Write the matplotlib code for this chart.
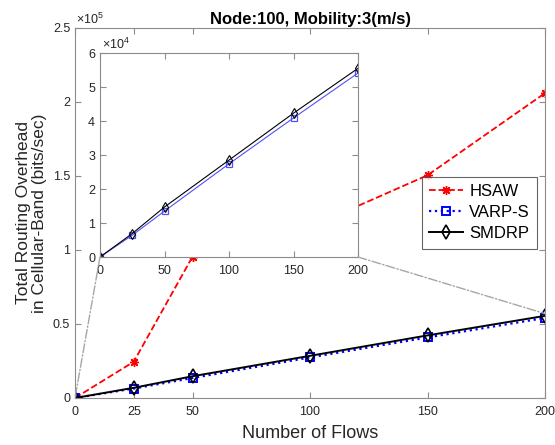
import matplotlib
matplotlib.use("Agg")
import matplotlib.pyplot as plt
from matplotlib.ticker import FuncFormatter, FixedLocator
from matplotlib.patches import ConnectionPatch

plt.rcParams['font.family'] = ['Liberation Sans', 'DejaVu Sans']
plt.rcParams['mathtext.fontset'] = 'custom'
plt.rcParams['mathtext.rm'] = 'Liberation Sans'

flows = [0, 25, 50, 100, 150, 200]
hsaw = [0, 24500, 95500, 115500, 150500, 206000]
varps = [0, 6400, 13500, 27400, 40900, 54100]
smdrp = [0, 6900, 14700, 28500, 42300, 55500]

main_xticks = [0, 25, 50, 100, 150, 200]
main_yticks = [0, 50000, 100000, 150000, 200000, 250000]
inset_xticks = [0, 50, 100, 150, 200]
inset_yticks = [0, 10000, 20000, 30000, 40000, 50000, 60000]
zoom_end = (200, 57000)

W, H = 555, 445
fig = plt.figure(figsize=(W / 100, H / 100), dpi=100)

spine_c = '#8c8c8c'
text_c = '#262626'

def px_axes(l, r, t, b):
    return [l / W, (H - b) / H, (r - l) / W, (b - t) / H]

def style(a):
    for s in a.spines.values():
        s.set_color(spine_c)
        s.set_linewidth(0.8)
    a.tick_params(direction='in', which='both', top=True, right=True,
                  colors=spine_c, labelcolor=text_c, labelsize=9,
                  length=4, width=0.8)
    a.tick_params(axis='x', pad=6)

ax = fig.add_axes(px_axes(75, 545, 28, 398))
style(ax)
ax.plot(flows, hsaw, color='red', linestyle='--', linewidth=1.3,
        marker=(8, 2, 0), markersize=6.5, label='HSAW')
ax.plot(flows, varps, color='blue', linestyle=':', linewidth=1.6,
        marker='s', markersize=6, markerfacecolor='none', markeredgewidth=1.4,
        label='VARP-S')
ax.plot(flows, smdrp, color='black', linestyle='-', linewidth=1.4,
        marker='d', markersize=7, markerfacecolor='none', markeredgewidth=1.2,
        label='SMDRP')
ax.set_xlim(0, 200)
ax.set_ylim(0, 250000)
ax.xaxis.set_major_locator(FixedLocator(main_xticks))
ax.yaxis.set_major_locator(FixedLocator(main_yticks))
ax.yaxis.set_major_formatter(FuncFormatter(lambda v, p: '%g' % (v / 1e5)))
ax.text(0.002, 1.004, r'$\times\mathregular{10^{5}}$', transform=ax.transAxes,
        ha='left', va='bottom', fontsize=9, color=text_c)
ax.set_title('Node:100, Mobility:3(m/s)', fontsize=12, fontweight='bold', pad=3)
ax.set_xlabel('Number of Flows', fontsize=13, color=text_c, labelpad=5)
ax.set_ylabel('Total Routing Overhead\nin Cellular-Band (bits/sec)', fontsize=12.5,
              color=text_c, linespacing=1.05)
ax.yaxis.set_label_coords(-0.06, 0.5)

leg = ax.legend(loc='upper left', bbox_to_anchor=(0.738, 0.598), fontsize=12,
                frameon=True, fancybox=False, edgecolor='#404040',
                handlelength=2.0, labelspacing=0.36, borderpad=0.45,
                handletextpad=0.4, borderaxespad=0)
leg.get_frame().set_linewidth(0.8)

axin = fig.add_axes(px_axes(100, 358, 53, 257))
style(axin)
axin.plot(flows, varps, color='#5050ff', linestyle='-', linewidth=0.8,
          marker='s', markersize=4, markerfacecolor='none', markeredgewidth=0.9)
axin.plot(flows, smdrp, color='black', linestyle='-', linewidth=0.8,
          marker='d', markersize=5, markerfacecolor='none', markeredgewidth=0.8)
axin.set_xlim(0, 200)
axin.set_ylim(0, 60000)
axin.xaxis.set_major_locator(FixedLocator(inset_xticks))
axin.yaxis.set_major_locator(FixedLocator(inset_yticks))
axin.yaxis.set_major_formatter(FuncFormatter(lambda v, p: '%g' % (v / 1e4)))
axin.text(0.008, 1.005, r'$\times\mathregular{10^{4}}$', transform=axin.transAxes,
          ha='left', va='bottom', fontsize=9, color=text_c)

for xyA, xyB in [((0, 0), (0, 0)), ((1, 0), zoom_end)]:
    con = ConnectionPatch(xyA=xyA, coordsA=axin.transAxes, xyB=xyB,
                          coordsB=ax.transData, color='#a6a6a6',
                          linestyle='-.', linewidth=1.0)
    fig.add_artist(con)

fig.savefig('out.png', dpi=100)
